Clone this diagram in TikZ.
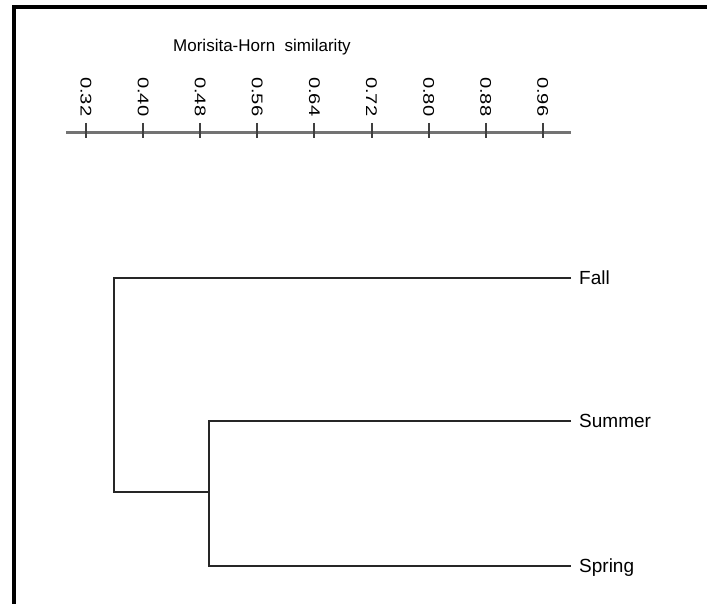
\documentclass[tikz,border=0pt]{standalone}
\usepackage{fontspec}
\setmainfont{Liberation Sans}
\colorlet{axgray}{black!55}
\colorlet{brk}{black!85}

\begin{document}
\begin{tikzpicture}[
        x=1pt,
        y=-1pt,
        leaf/.style={anchor=west,inner xsep=8pt,inner ysep=0pt,text height=13.5pt,text depth=0pt,font=\fontsize{19}{22}\selectfont},
        branch/.style={brk,line width=2pt}
    ]
    \useasboundingbox (0,0) rectangle (707,604);
    \draw[line width=3.2pt] (14,604) -- (14,7) -- (708,7);
    \begin{scope}
        \node[font=\fontsize{17}{20}\selectfont] (title) at (262,47) {Morisita-Horn \ similarity};
        \coordinate (axl) at (66,133);
        \coordinate (axr) at (571,133);
        \draw[axgray,line width=3pt] (axl) -- (axr);
        \foreach \val [count=\i from 0] in {0.32,0.40,0.48,0.56,0.64,0.72,0.80,0.88,0.96} {
            \draw[black!75,line width=2pt] (86+57.1*\i,123) -- (86+57.1*\i,138);
            \node[rotate=-90,anchor=east,inner sep=1pt,xshift=-1.5pt,font=\fontsize{15.5}{18}\selectfont]
                (tick\i) at (86+57.1*\i,119) {\scalebox{1.3}[1]{\val}};
        }
    \end{scope}
    \begin{scope}
        \node[leaf] (fall) at (571,278) {Fall};
        \node[leaf] (summer) at (571,421) {Summer};
        \node[leaf] (spring) at (571,566) {Spring};
        \coordinate (root) at (114,492);
        \coordinate (inner) at (209,492);
        \draw[branch] (fall.west) -| (root) -- (inner);
        \draw[branch] (summer.west) -| (inner) |- (spring.west);
    \end{scope}
\end{tikzpicture}
\end{document}
